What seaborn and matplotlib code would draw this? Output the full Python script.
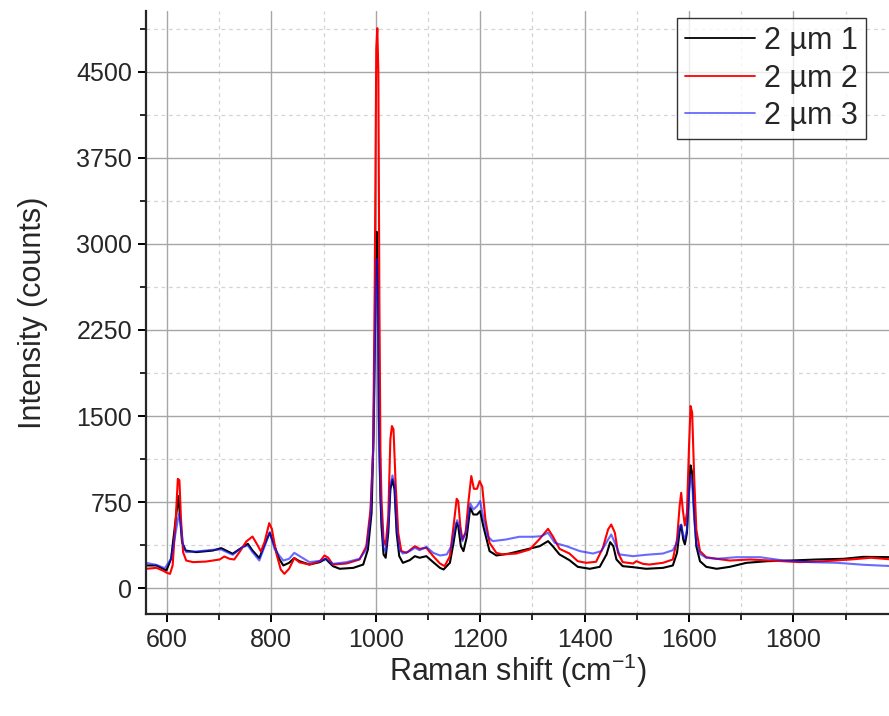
import numpy as np
import pandas as pd
import matplotlib
matplotlib.use('Agg')
import matplotlib.pyplot as plt
import seaborn as sns
from matplotlib.ticker import MultipleLocator

shift_1 = [560, 580, 599, 608, 617, 622, 625, 629, 636, 656, 688, 704, 726, 745, 755, 764, 777, 789,
           797, 806, 815, 823, 834, 844, 854, 873, 893, 904, 918, 931, 957, 976, 985, 992, 996, 1000,
           1002, 1004, 1006, 1009, 1011, 1015, 1019, 1024, 1028, 1032, 1036, 1040, 1045, 1052, 1065,
           1075, 1084, 1097, 1110, 1123, 1130, 1142, 1149, 1155, 1158, 1163, 1168, 1174, 1181, 1187,
           1194, 1200, 1206, 1218, 1231, 1256, 1288, 1314, 1330, 1339, 1352, 1371, 1387, 1410, 1429,
           1442, 1449, 1455, 1461, 1473, 1493, 1518, 1550, 1569, 1577, 1582, 1585, 1589, 1592, 1596,
           1600, 1603, 1606, 1610, 1614, 1621, 1633, 1653, 1678, 1710, 1749, 1794, 1845, 1896, 1934, 1990]
counts_1 = [198, 198, 154, 256, 605, 802, 634, 401, 328, 314, 328, 349, 300, 358, 387, 328, 262, 401,
            483, 372, 256, 198, 221, 262, 235, 206, 227, 256, 192, 169, 177, 206, 337, 657, 1355, 2700,
            3105, 2800, 1500, 800, 541, 294, 265, 483, 860, 948, 860, 483, 279, 221, 244,
            279, 265, 279, 227, 177, 163, 221, 395, 570, 541, 366, 323, 440, 701, 642,
            642, 672, 541, 323, 285, 302, 337, 366, 410, 366, 294, 244, 186, 169, 186,
            294, 401, 366, 250, 192, 183, 169, 177, 198, 308, 497, 549, 424, 381, 483,
            860, 1070, 1006, 657, 366, 235, 186, 169, 186, 221, 235, 241, 250, 256, 273, 270]

shift_2 = [560, 580, 592, 600, 606, 611, 617, 621, 624, 627, 631, 637, 650, 675, 701, 710, 720, 729,
           739, 752, 764, 774, 780, 787, 796, 801, 809, 818, 825, 834, 844, 854, 873, 893, 902, 909,
           918, 944, 969, 982, 990, 995, 998, 1001, 1003, 1005, 1007, 1009, 1011, 1015, 1019, 1024,
           1028, 1031, 1034, 1038, 1043, 1049, 1059, 1075, 1084, 1097, 1110, 1123, 1132, 1142, 1149,
           1155, 1158, 1162, 1166, 1172, 1178, 1183, 1188, 1194, 1199, 1204, 1210, 1218, 1231, 1243,
           1269, 1295, 1314, 1330, 1339, 1352, 1371, 1387, 1403, 1422, 1435, 1445, 1451, 1458, 1464,
           1473, 1493, 1499, 1512, 1524, 1550, 1569, 1577, 1582, 1585, 1588, 1592, 1596, 1600, 1603,
           1606, 1610, 1614, 1621, 1633, 1653, 1678, 1717, 1768, 1813, 1858, 1909, 1948, 1990]
counts_2 = [169, 177, 154, 134, 125, 198, 605, 953, 940, 605, 314, 241, 227, 232, 250, 276, 256, 250,
            314, 407, 450, 372, 320, 401, 567, 517, 314, 163, 125, 169, 262, 225, 206, 235, 285, 265,
            206, 215, 250, 366, 686, 1209, 2600, 4700, 4880, 4500, 2500, 1200, 773, 424, 372, 628,
            1297, 1413, 1384, 919, 483, 323, 308, 366, 343, 352, 279, 215, 192, 279, 541,
            779, 759, 541, 424, 483, 773, 977, 866, 866, 933, 884, 599, 395, 308, 294,
            302, 337, 430, 517, 453, 343, 302, 235, 221, 230, 352, 512, 555, 483, 308,
            227, 215, 235, 212, 206, 221, 250, 424, 715, 831, 686, 547, 657, 1238, 1587,
            1529, 948, 512, 323, 270, 256, 241, 250, 238, 227, 235, 250, 265, 250]

shift_3 = [560, 580, 596, 608, 618, 623, 626, 631, 637, 656, 688, 704, 726, 745, 755, 764, 777, 789,
           797, 806, 815, 823, 834, 844, 854, 873, 893, 904, 918, 944, 969, 982, 990, 995, 1000, 1002,
           1004, 1006, 1009, 1011, 1015, 1019, 1024, 1028, 1032, 1036, 1040, 1045, 1052, 1065, 1075,
           1084, 1097, 1110, 1123, 1136, 1145, 1151, 1156, 1160, 1166, 1174, 1181, 1187, 1194, 1200,
           1206, 1214, 1224, 1249, 1275, 1301, 1317, 1330, 1343, 1365, 1391, 1416, 1432, 1445, 1451,
           1458, 1467, 1493, 1518, 1550, 1569, 1577, 1582, 1585, 1589, 1592, 1596, 1600, 1603, 1606,
           1610, 1614, 1621, 1633, 1653, 1691, 1736, 1781, 1832, 1884, 1934, 1990]
counts_3 = [221, 203, 174, 256, 517, 648, 576, 372, 314, 320, 334, 337, 291, 358, 372, 314, 241, 387,
            488, 343, 285, 241, 256, 308, 280, 227, 238, 256, 212, 227, 256, 337, 628, 1209, 2600, 2870,
            2500, 1300, 800, 628, 352, 323, 541, 890, 983, 904, 541, 337, 302, 323, 352,
            331, 360, 308, 285, 294, 366, 512, 593, 540, 410, 512, 738, 686, 715, 759,
            613, 453, 410, 424, 448, 448, 453, 483, 395, 366, 323, 302, 323, 424, 468,
            395, 294, 279, 291, 302, 331, 395, 541, 555, 459, 424, 512, 831, 991, 919,
            599, 395, 299, 265, 256, 270, 270, 241, 227, 221, 204, 192]

labels = ['2 µm 1', '2 µm 2', '2 µm 3']
colors = ['black', '#ff0000', '#1a1aff']
alphas = [1.0, 1.0, 0.65]

sns.set_theme(style='ticks')
plt.rcParams['font.family'] = ['Liberation Sans', 'DejaVu Sans']
plt.rcParams['mathtext.fontset'] = 'custom'
plt.rcParams['mathtext.rm'] = 'Liberation Sans'
plt.rcParams['mathtext.it'] = 'Liberation Sans:italic'

fig = plt.figure(figsize=(8.89, 7.16), dpi=100)
ax = fig.add_axes([146 / 889, 1 - 614 / 716, (889 - 146) / 889, (614 - 11) / 716])

series = [(shift_1, counts_1), (shift_2, counts_2), (shift_3, counts_3)]
for (xs, ys), lab, col, al in zip(series, labels, colors, alphas):
    df = pd.DataFrame({'shift': xs, 'counts': ys})
    sns.lineplot(data=df, x='shift', y='counts', ax=ax, color=col, alpha=al,
                 linewidth=1.5, label=lab, estimator=None, sort=False)

ax.set_xlim(560, 1983)
ax.set_ylim(-225, 5030)
ax.xaxis.set_major_locator(MultipleLocator(200))
ax.xaxis.set_minor_locator(MultipleLocator(100))
ax.yaxis.set_major_locator(MultipleLocator(750))
ax.yaxis.set_minor_locator(MultipleLocator(375))

# rejilla mayor solida y menor punteada
ax.grid(which='major', color='#a6a6a6', linewidth=1.0, linestyle='-')
ax.grid(which='minor', color='#d4d4d4', linewidth=0.9, linestyle=(0, (3, 3)))
ax.set_axisbelow(True)

ax.spines['top'].set_visible(False)
ax.spines['right'].set_visible(False)
ax.spines['left'].set_linewidth(1.6)
ax.spines['bottom'].set_linewidth(1.6)
ax.tick_params(which='major', direction='out', length=6, width=1.4, labelsize=18, color='black', pad=4)
ax.tick_params(which='minor', direction='out', length=4, width=1.2, color='black')

ax.set_xlabel(r'Raman shift (cm$^{-1}$)', fontsize=22, labelpad=0)
ax.set_ylabel('Intensity (counts)', fontsize=22, labelpad=20)

leg = ax.legend(loc='upper right', bbox_to_anchor=(0.969, 0.988), borderaxespad=0,
                fontsize=22, frameon=True, fancybox=False, edgecolor='black',
                handlelength=2.3, labelspacing=0.25, borderpad=0.25, handletextpad=0.3)
leg.get_frame().set_linewidth(1.0)
for h, al in zip(leg.get_lines(), alphas):
    h.set_linewidth(1.3)
    h.set_alpha(al)

plt.savefig('out.png', dpi=100)
plt.close()
